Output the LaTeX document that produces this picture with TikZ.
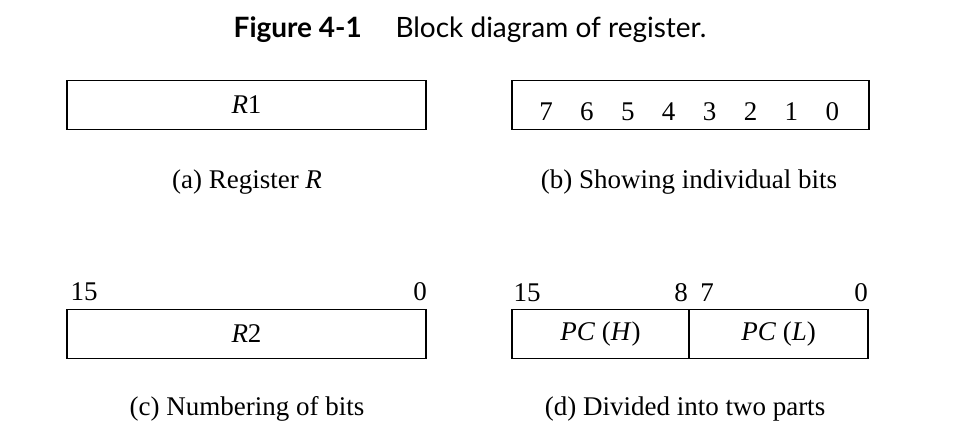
\documentclass[tikz,border=0pt]{standalone}
\usepackage{fontspec}
\setmainfont{Liberation Serif}
\newfontfamily\titlefont{Lato}
\usetikzlibrary{positioning}

\begin{document}
\begin{tikzpicture}[
    x=1pt, y=-1pt,
    every node/.style={font=\fontsize{27}{32}\selectfont, inner sep=0pt},
    reg/.style={draw, line width=1.6pt, outer sep=0pt, minimum height=49pt},
    bitnum/.style={anchor=base},
    caption/.style={anchor=base}
]
    \useasboundingbox (0,0) rectangle (972,434);

    \node[anchor=base, font=\titlefont\fontsize{28}{34}\selectfont] (title) at (470,37)
        {\textbf{Figure 4-1}\hspace{1.2em}Block diagram of register.};

    % (a) and (b)
    \node[reg, minimum width=359pt] (ra) at (246.5,105) {\textit{R}1};
    \node[reg, minimum width=357pt, right=86pt of ra] (rb) {};
    \foreach \b [count=\i from 0] in {7,6,5,4,3,2,1,0}
        \node[bitnum] (rb\b) at (546+40.9*\i,120) {\b};
    \node[caption] (capa) at (247,188) {(a) Register \textit{R}};
    \node[caption] (capb) at (689,188) {(b) Showing individual bits};

    % (c) and (d)
    \node[reg, minimum width=359pt, below=180pt of ra] (rc) {\textit{R}2};
    \node[reg, minimum width=177pt, right=86pt of rc] (rdh) {\textit{PC} (\textit{H})};
    \node[reg, minimum width=179pt, right=0pt of rdh] (rdl) {\textit{PC} (\textit{L})};
    \node[bitnum] (rc15) at (84,300) {15};
    \node[bitnum] (rc0) at (420,300) {0};
    \node[bitnum] (rd15) at (527,301) {15};
    \node[bitnum] (rd8) at (681,301) {8};
    \node[bitnum] (rd7) at (707,301) {7};
    \node[bitnum] (rd0) at (861,301) {0};
    \node[caption] (capc) at (247,415) {(c) Numbering of bits};
    \node[caption] (capd) at (685,415) {(d) Divided into two parts};
\end{tikzpicture}
\end{document}
